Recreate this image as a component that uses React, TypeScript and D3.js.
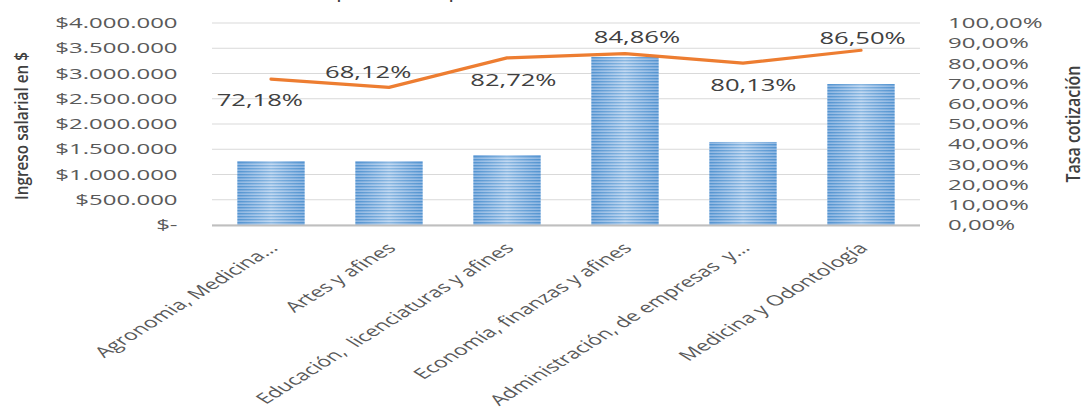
import React from 'react';
import * as d3 from 'd3';

// categorías (eje X)
const categories: string[] = [
  'Agronomia, Medicina…',
  'Artes y afines',
  'Educación,  licenciaturas y afines',
  'Economía, finanzas y afines',
  'Administración, de empresas  y…',
  'Medicina y Odontología',
];

// ingreso salarial promedio ($)
const salaries: number[] = [1267000, 1265000, 1386000, 3327000, 1644000, 2792000];

// tasa de cotización (%)
const rates: number[] = [72.18, 68.12, 82.72, 84.86, 80.13, 86.5];

const salaryTicks: number[] = [0, 500000, 1000000, 1500000, 2000000, 2500000, 3000000, 3500000, 4000000];
const rateTicks: number[] = [0, 10, 20, 30, 40, 50, 60, 70, 80, 90, 100];

// where Excel dropped each data label, relative to its point
const labelOffsets: { dx: number; dy: number }[] = [
  { dx: -7, dy: 21 },
  { dx: -13, dy: -15 },
  { dx: 4, dy: 22 },
  { dx: 7.5, dy: -16 },
  { dx: 6.5, dy: 22 },
  { dx: 1, dy: -12 },
];

const W = 1089;
const H = 415;
const SX = 1.6; // the source picture is stretched horizontally

const plot = { left: 212 / SX, right: 920 / SX, top: 23, bottom: 225 };

const fmtMoney = (v: number) =>
  v === 0 ? '$-' : '$' + d3.format(',')(v).replace(/,/g, '.');
const fmtPct = (v: number) => v.toFixed(2).replace('.', ',') + '%';

const App: React.FC = () => {
  const x = d3.scaleBand<string>()
    .domain(categories)
    .range([plot.left, plot.right])
    .paddingInner(0.43)
    .paddingOuter(0.215);

  const y = d3.scaleLinear().domain([0, 4000000]).range([plot.bottom, plot.top]);
  const y2 = d3.scaleLinear().domain([0, 100]).range([plot.bottom, plot.top]);

  const cx = (i: number) => (x(categories[i]) ?? 0) + x.bandwidth() / 2;

  const line = d3.line<number>()
    .x((_, i) => cx(i))
    .y(d => y2(d));

  const tickColor = '#595959';

  return (
    <svg
      width={W}
      height={H}
      style={{ position: 'absolute', left: 0, top: 0, background: '#fff', fontFamily: '"Open Sans", sans-serif' }}
    >
      <defs>
        <pattern id="stripes" patternUnits="userSpaceOnUse" width={10} height={3}>
          <rect width={10} height={3} fill="#a9c9ec" />
          <rect width={10} height={1.4} fill="#5b9bd5" />
        </pattern>
        <linearGradient id="sheen" x1="0" x2="1" y1="0" y2="0">
          <stop offset="0" stopColor="#3c7fc4" stopOpacity={0.25} />
          <stop offset="0.5" stopColor="#ffffff" stopOpacity={0.3} />
          <stop offset="1" stopColor="#3c7fc4" stopOpacity={0.25} />
        </linearGradient>
      </defs>

      <g transform={`scale(${SX},1)`}>
        {/* title, clipped by the top edge */}
        <text x={332} y={-2} textAnchor="middle" fontSize={18} fill="#404040" textLength={244} lengthAdjust="spacingAndGlyphs">
          promedio por área de conocimiento
        </text>

        {salaryTicks.map(t => (
          <line key={'g' + t} x1={plot.left} x2={plot.right} y1={y(t)} y2={y(t)}
            stroke="#d9d9d9" strokeWidth={1} vectorEffect="non-scaling-stroke" />
        ))}

        {salaries.map((v, i) => (
          <g key={'b' + i}>
            <rect x={x(categories[i])} y={y(v)} width={x.bandwidth()} height={plot.bottom - y(v)} fill="url(#stripes)" />
            <rect x={x(categories[i])} y={y(v)} width={x.bandwidth()} height={plot.bottom - y(v)} fill="url(#sheen)" />
          </g>
        ))}

        <line x1={plot.left} x2={plot.right} y1={plot.bottom + 0.5} y2={plot.bottom + 0.5}
          stroke="#bfbfbf" strokeWidth={2} vectorEffect="non-scaling-stroke" />

        <path d={line(rates) ?? ''} fill="none" stroke="#ed7d31" strokeWidth={3.2}
          strokeLinejoin="round" strokeLinecap="round" vectorEffect="non-scaling-stroke" />

        {rates.map((r, i) => (
          <text key={'l' + i} x={cx(i) + labelOffsets[i].dx} y={y2(r) + labelOffsets[i].dy} dy="0.35em"
            textAnchor="middle" fontSize={16} fill="#404040">
            {fmtPct(r)}
          </text>
        ))}

        {salaryTicks.map(t => (
          <text key={'yl' + t} x={111} y={y(t)} dy="0.35em" textAnchor="end" fontSize={15} fill={tickColor}>
            {fmtMoney(t)}
          </text>
        ))}

        {rateTicks.map(t => (
          <text key={'yr' + t} x={592.5} y={y2(t)} dy="0.35em" textAnchor="start" fontSize={15} fill={tickColor}>
            {fmtPct(t)}
          </text>
        ))}

        {categories.map((c, i) => (
          <text key={'c' + i} transform={`translate(${cx(i) + 5},249) rotate(-45)`} textAnchor="end"
            fontSize={14.5} fill={tickColor} style={{ whiteSpace: 'pre' }}>
            {c}
          </text>
        ))}
      </g>

      <text transform={`translate(28,126) rotate(-90)`} textAnchor="middle" fontSize={18} fontWeight={600} fill="#404040"
        textLength={148} lengthAdjust="spacingAndGlyphs">
        Ingreso salarial en $
      </text>
      <text transform={`translate(1080,124) rotate(-90)`} textAnchor="middle" fontSize={19} fontWeight={600} fill="#404040"
        textLength={117} lengthAdjust="spacingAndGlyphs">
        Tasa cotización
      </text>
    </svg>
  );
};

export default App;
